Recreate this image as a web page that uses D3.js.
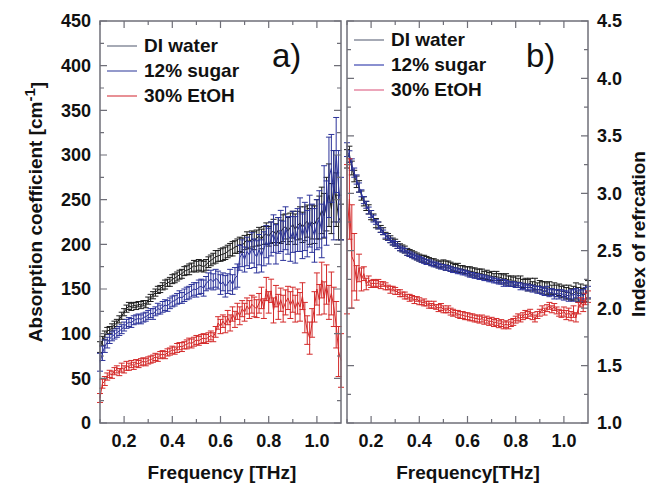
<!DOCTYPE html>
<html>
<head>
<meta charset="utf-8">
<script src="https://cdn.jsdelivr.net/npm/d3@7/dist/d3.min.js"></script>
<style>
  body { margin: 0; background: #fff; }
  svg { font-family: "Liberation Sans", Arial, sans-serif; }
  .tick-label { font-size: 18px; font-weight: bold; fill: #111; }
  .title { font-size: 19px; font-weight: bold; fill: #111; }
  .legend-text { font-size: 19px; font-weight: bold; fill: #111; }
  .panel-tag { font-size: 33px; fill: #111; }
</style>
</head>
<body>
<div id="chart"></div>
<script>
// sampled frequencies [THz]
var freq = [
  0.10, 0.11, 0.12, 0.13, 0.14, 0.15, 0.16, 0.17, 0.18, 0.19,
  0.20, 0.21, 0.22, 0.23, 0.24, 0.25, 0.26, 0.27, 0.28, 0.29,
  0.30, 0.31, 0.32, 0.33, 0.34, 0.35, 0.36, 0.37, 0.38, 0.39,
  0.40, 0.41, 0.42, 0.43, 0.44, 0.45, 0.46, 0.47, 0.48, 0.49,
  0.50, 0.51, 0.52, 0.53, 0.54, 0.55, 0.56, 0.57, 0.58, 0.59,
  0.60, 0.61, 0.62, 0.63, 0.64, 0.65, 0.66, 0.67, 0.68, 0.69,
  0.70, 0.71, 0.72, 0.73, 0.74, 0.75, 0.76, 0.77, 0.78, 0.79,
  0.80, 0.81, 0.82, 0.83, 0.84, 0.85, 0.86, 0.87, 0.88, 0.89,
  0.90, 0.91, 0.92, 0.93, 0.94, 0.95, 0.96, 0.97, 0.98, 0.99,
  1.00, 1.01, 1.02, 1.03, 1.04, 1.05, 1.06, 1.07, 1.08, 1.09, 1.10
];

var seriesNames = ["DI water", "12% sugar", "30% EtOH"];

// a) absorption coefficient [cm^-1]
var absWater = [
  85, 92, 98, 103, 104, 107, 110, 112, 116, 120,
  124, 128, 131, 130, 132, 131, 133, 132, 134, 133,
  137, 140, 143, 146, 149, 150, 153, 155, 157, 158,
  161, 162, 164, 166, 167, 170, 171, 172, 174, 176,
  175, 177, 176, 175, 177, 180, 182, 184, 186, 187,
  188, 189, 190, 192, 194, 195, 197, 198, 200, 199,
  202, 205, 203, 206, 204, 207, 209, 206, 210, 212,
  209, 213, 215, 211, 216, 214, 218, 220, 215, 219,
  222, 217, 221, 224, 219, 223, 226, 220, 225, 222,
  228, 230, 238, 232, 245, 255, 240, 265, 250, 230, 225
];
var absWaterErr = [
  6, 5, 5, 4, 4, 4, 4, 4, 4, 4,
  4, 4, 4, 4, 3, 4, 3, 4, 3, 4,
  4, 4, 4, 4, 4, 4, 4, 5, 4, 5,
  5, 5, 5, 5, 5, 5, 5, 6, 5, 6,
  6, 6, 6, 6, 6, 6, 6, 6, 7, 6,
  7, 7, 7, 7, 7, 8, 7, 8, 8, 8,
  8, 9, 8, 9, 10, 9, 10, 11, 10, 12,
  11, 12, 13, 12, 14, 13, 15, 14, 15, 16,
  15, 17, 16, 18, 17, 19, 18, 20, 19, 21,
  22, 24, 26, 25, 30, 35, 28, 40, 30, 25, 20
];
var absSugar = [
  68, 78, 86, 90, 94, 97, 99, 101, 103, 105,
  108, 111, 113, 112, 115, 116, 117, 116, 118, 119,
  121, 123, 122, 125, 128, 127, 130, 132, 131, 134,
  136, 137, 139, 141, 140, 143, 145, 146, 148, 150,
  149, 152, 153, 151, 156, 159, 161, 158, 162, 160,
  155, 158, 153, 156, 160, 155, 162, 165, 185, 190,
  183, 192, 188, 196, 190, 186, 194, 187, 195, 203,
  198, 206, 212, 200, 210, 215, 204, 218, 210, 206,
  214, 205, 216, 222, 209, 220, 212, 226, 218, 210,
  222, 228, 215, 248, 235, 275, 285, 255, 300, 265, 240
];
var absSugarErr = [
  10, 8, 7, 6, 5, 5, 5, 5, 5, 5,
  5, 5, 5, 5, 5, 5, 5, 5, 5, 5,
  5, 5, 6, 5, 6, 5, 6, 6, 6, 6,
  6, 6, 6, 7, 6, 7, 7, 7, 7, 7,
  8, 8, 8, 9, 8, 9, 10, 9, 10, 10,
  11, 10, 12, 11, 12, 11, 12, 13, 14, 15,
  14, 16, 15, 17, 16, 18, 17, 18, 19, 18,
  20, 19, 21, 22, 20, 23, 22, 24, 21, 25,
  23, 26, 24, 30, 25, 27, 26, 29, 27, 30,
  28, 32, 30, 40, 36, 45, 38, 50, 42, 40, 35
];
var absEtoh = [
  28, 44, 47, 52, 55, 54, 58, 60, 57, 62,
  60, 64, 63, 66, 64, 67, 66, 68, 69, 68,
  70, 71, 72, 74, 73, 76, 77, 76, 79, 80,
  82, 81, 84, 86, 85, 87, 88, 90, 89, 91,
  93, 92, 94, 95, 94, 96, 98, 96, 102, 112,
  108, 114, 110, 118, 112, 122, 116, 125, 120, 128,
  124, 131, 127, 133, 130, 128, 134, 140, 128, 150,
  135, 148, 126, 142, 130, 138, 128, 135, 140, 132,
  138, 128, 136, 130, 142, 118, 104, 95, 112, 130,
  150, 138, 160, 140, 155, 135, 145, 130, 110, 80, 70
];
var absEtohErr = [
  5, 5, 5, 4, 4, 4, 4, 4, 4, 5,
  4, 5, 4, 4, 4, 4, 4, 4, 4, 4,
  4, 4, 4, 4, 4, 4, 4, 4, 4, 4,
  4, 4, 5, 4, 5, 4, 5, 5, 5, 5,
  5, 5, 5, 5, 5, 5, 5, 5, 6, 7,
  8, 7, 9, 8, 9, 8, 9, 9, 10, 9,
  10, 9, 10, 10, 11, 10, 11, 12, 11, 13,
  12, 13, 14, 12, 14, 13, 15, 14, 13, 15,
  14, 15, 14, 16, 15, 17, 16, 18, 16, 17,
  18, 17, 20, 18, 22, 19, 24, 22, 26, 28, 30
];

// b) index of refraction
var idxWater = [
  3.38, 3.32, 3.25, 3.18, 3.12, 3.05, 3.00, 2.94, 2.90, 2.85,
  2.82, 2.78, 2.75, 2.72, 2.68, 2.66, 2.63, 2.61, 2.59, 2.57,
  2.56, 2.54, 2.52, 2.51, 2.50, 2.48, 2.47, 2.46, 2.45, 2.44,
  2.43, 2.42, 2.41, 2.40, 2.40, 2.39, 2.38, 2.38, 2.37, 2.36,
  2.36, 2.35, 2.35, 2.34, 2.33, 2.33, 2.32, 2.32, 2.31, 2.31,
  2.30, 2.29, 2.29, 2.28, 2.28, 2.27, 2.27, 2.26, 2.26, 2.25,
  2.25, 2.24, 2.24, 2.23, 2.23, 2.22, 2.22, 2.21, 2.21, 2.21,
  2.20, 2.20, 2.19, 2.19, 2.18, 2.18, 2.18, 2.17, 2.17, 2.16,
  2.16, 2.15, 2.14, 2.15, 2.13, 2.14, 2.12, 2.13, 2.12, 2.13,
  2.11, 2.12, 2.10, 2.12, 2.11, 2.13, 2.10, 2.12, 2.11, 2.13, 2.14
];
var idxWaterErr = [
  0.06, 0.05, 0.05, 0.04, 0.04, 0.04, 0.03, 0.03, 0.03, 0.03,
  0.03, 0.03, 0.02, 0.03, 0.02, 0.02, 0.02, 0.02, 0.02, 0.02,
  0.02, 0.02, 0.02, 0.02, 0.02, 0.02, 0.02, 0.02, 0.02, 0.02,
  0.02, 0.02, 0.02, 0.02, 0.02, 0.02, 0.02, 0.02, 0.02, 0.02,
  0.02, 0.02, 0.02, 0.02, 0.02, 0.02, 0.02, 0.02, 0.02, 0.02,
  0.02, 0.02, 0.02, 0.02, 0.02, 0.02, 0.02, 0.02, 0.02, 0.02,
  0.02, 0.02, 0.02, 0.02, 0.02, 0.03, 0.02, 0.02, 0.02, 0.02,
  0.02, 0.02, 0.03, 0.02, 0.02, 0.03, 0.02, 0.03, 0.02, 0.03,
  0.03, 0.03, 0.03, 0.04, 0.03, 0.03, 0.04, 0.03, 0.04, 0.03,
  0.04, 0.03, 0.04, 0.04, 0.05, 0.04, 0.05, 0.04, 0.05, 0.05, 0.05
];
var idxSugar = [
  3.30, 3.34, 3.22, 3.15, 3.10, 3.06, 2.98, 2.93, 2.89, 2.86,
  2.81, 2.79, 2.74, 2.72, 2.69, 2.67, 2.63, 2.62, 2.60, 2.58,
  2.57, 2.55, 2.53, 2.52, 2.51, 2.49, 2.48, 2.47, 2.46, 2.45,
  2.44, 2.43, 2.43, 2.42, 2.41, 2.40, 2.40, 2.39, 2.38, 2.38,
  2.39, 2.37, 2.38, 2.36, 2.36, 2.35, 2.35, 2.34, 2.34, 2.33,
  2.33, 2.32, 2.32, 2.31, 2.31, 2.30, 2.30, 2.29, 2.29, 2.28,
  2.28, 2.27, 2.28, 2.26, 2.27, 2.25, 2.26, 2.24, 2.25, 2.23,
  2.24, 2.22, 2.23, 2.21, 2.22, 2.20, 2.22, 2.19, 2.21, 2.18,
  2.20, 2.18, 2.19, 2.17, 2.18, 2.16, 2.17, 2.15, 2.16, 2.14,
  2.15, 2.13, 2.14, 2.12, 2.13, 2.15, 2.12, 2.14, 2.11, 2.13, 2.16
];
var idxSugarErr = [
  0.08, 0.07, 0.06, 0.05, 0.05, 0.05, 0.04, 0.04, 0.04, 0.04,
  0.04, 0.03, 0.04, 0.03, 0.03, 0.03, 0.03, 0.03, 0.03, 0.03,
  0.03, 0.03, 0.03, 0.03, 0.03, 0.03, 0.03, 0.03, 0.03, 0.03,
  0.03, 0.03, 0.03, 0.03, 0.03, 0.03, 0.03, 0.03, 0.03, 0.03,
  0.03, 0.04, 0.03, 0.04, 0.03, 0.03, 0.04, 0.03, 0.03, 0.03,
  0.03, 0.04, 0.03, 0.04, 0.03, 0.04, 0.04, 0.03, 0.04, 0.03,
  0.04, 0.03, 0.04, 0.04, 0.03, 0.04, 0.04, 0.04, 0.03, 0.04,
  0.04, 0.04, 0.05, 0.04, 0.04, 0.05, 0.04, 0.04, 0.05, 0.04,
  0.04, 0.05, 0.04, 0.05, 0.05, 0.04, 0.05, 0.05, 0.05, 0.05,
  0.05, 0.05, 0.06, 0.05, 0.06, 0.07, 0.06, 0.07, 0.06, 0.07, 0.08
];
var idxEtoh = [
  2.60, 2.95, 2.45, 2.40, 2.22, 2.35, 2.25, 2.30, 2.21, 2.24,
  2.21, 2.22, 2.21, 2.22, 2.20, 2.21, 2.19, 2.18, 2.16, 2.17,
  2.15, 2.14, 2.13, 2.12, 2.11, 2.10, 2.09, 2.09, 2.07, 2.08,
  2.06, 2.05, 2.05, 2.04, 2.03, 2.02, 2.03, 2.01, 2.00, 2.01,
  1.99, 1.98, 1.99, 1.97, 1.96, 1.96, 1.95, 1.94, 1.94, 1.93,
  1.93, 1.92, 1.92, 1.91, 1.91, 1.90, 1.91, 1.89, 1.90, 1.88,
  1.89, 1.87, 1.88, 1.86, 1.87, 1.85, 1.86, 1.85, 1.87, 1.88,
  1.90, 1.92, 1.91, 1.93, 1.95, 1.94, 1.96, 1.93, 1.91, 1.94,
  1.96, 1.99, 1.97, 2.00, 2.02, 1.99, 2.01, 1.98, 1.96, 1.95,
  1.97, 1.94, 1.96, 1.93, 1.97, 1.92, 2.00, 2.05, 2.02, 2.08, 2.10
];
var idxEtohErr = [
  0.65, 0.35, 0.45, 0.25, 0.15, 0.12, 0.10, 0.06, 0.05, 0.04,
  0.03, 0.03, 0.03, 0.03, 0.03, 0.02, 0.03, 0.02, 0.03, 0.02,
  0.03, 0.02, 0.03, 0.02, 0.03, 0.02, 0.03, 0.02, 0.03, 0.02,
  0.03, 0.02, 0.03, 0.02, 0.03, 0.02, 0.03, 0.02, 0.03, 0.03,
  0.03, 0.02, 0.03, 0.03, 0.03, 0.02, 0.03, 0.03, 0.03, 0.03,
  0.03, 0.03, 0.03, 0.03, 0.03, 0.03, 0.03, 0.03, 0.03, 0.03,
  0.03, 0.03, 0.03, 0.03, 0.03, 0.03, 0.03, 0.03, 0.03, 0.03,
  0.03, 0.03, 0.03, 0.03, 0.03, 0.03, 0.03, 0.03, 0.03, 0.03,
  0.03, 0.03, 0.03, 0.03, 0.03, 0.03, 0.03, 0.03, 0.03, 0.03,
  0.04, 0.04, 0.04, 0.04, 0.05, 0.04, 0.05, 0.04, 0.05, 0.05, 0.05
];

var xTicks = [0.2, 0.4, 0.6, 0.8, 1.0];
var absTicks = [0, 50, 100, 150, 200, 250, 300, 350, 400, 450];
var idxTicks = [1.0, 1.5, 2.0, 2.5, 3.0, 3.5, 4.0, 4.5];

var seriesColors = ["#1c1c1c", "#2c339a", "#d42a2a"],
    legendColors = [["#6a7184", "#4a55a8", "#d8454e"], ["#6a7184", "#3c46b0", "#e06b8c"]],
    frameColor = "#6f6f78";

var svg = d3.select("#chart").append("svg")
    .attr("width", 661)
    .attr("height", 487);

function drawPanel(p) {
  var x = d3.scaleLinear().domain([0.1, 1.1]).range([p.left, p.right]),
      y = d3.scaleLinear().domain(p.yDomain).range([423, 21]),
      g = svg.append("g"),
      capW = 3;

  // series: line + error bars
  p.series.forEach(function(s, k) {
    var pts = freq.map(function(f, i) { return {f: f, v: s.values[i], e: s.errors[i]}; }),
        sg = g.append("g")
          .attr("stroke", seriesColors[k])
          .attr("stroke-width", 1)
          .attr("fill", "none");
    sg.append("path")
      .datum(pts)
      .attr("d", d3.line()
        .x(function(d) { return x(d.f); })
        .y(function(d) { return y(d.v); }));
    sg.selectAll(".bar").data(pts)
      .enter().append("path")
      .attr("class", "bar")
      .attr("d", function(d) {
        var cx = x(d.f),
            y1 = Math.max(y(d.v + d.e), 21),
            y2 = Math.min(y(d.v - d.e), 423);
        return "M" + cx + "," + y1 + "V" + y2 +
               "M" + (cx - capW) + "," + y1 + "H" + (cx + capW) +
               "M" + (cx - capW) + "," + y2 + "H" + (cx + capW);
      });
  });

  // frame
  g.append("rect")
    .attr("x", p.left)
    .attr("y", 21)
    .attr("width", p.right - p.left)
    .attr("height", 402)
    .attr("fill", "none")
    .attr("stroke", frameColor)
    .attr("stroke-width", 1.5);

  // inward ticks on all four sides
  var xMinor = d3.range(1, 11).map(function(v) { return v / 10; }),
      yMinorStep = (p.yTicks[1] - p.yTicks[0]) / 2,
      yMinor = d3.range(p.yDomain[0], p.yDomain[1] + 1e-9, yMinorStep),
      tg = g.append("g").attr("stroke", frameColor).attr("stroke-width", 1.2);

  tg.selectAll(".xt").data(xMinor)
    .enter().append("path")
    .attr("d", function(d) {
      var len = xTicks.some(function(t) { return Math.abs(t - d) < 1e-6; }) ? 7 : 4,
          cx = x(d);
      return "M" + cx + ",423V" + (423 - len) + "M" + cx + ",21V" + (21 + len);
    });
  tg.selectAll(".yt").data(yMinor)
    .enter().append("path")
    .attr("d", function(d, i) {
      var len = (i % 2 === 0) ? 7 : 4,
          cy = y(d);
      return "M" + p.left + "," + cy + "H" + (p.left + len) +
             "M" + p.right + "," + cy + "H" + (p.right - len);
    });

  // tick labels
  g.selectAll(".xl").data(xTicks)
    .enter().append("text")
    .attr("class", "tick-label")
    .attr("x", function(d) { return x(d); })
    .attr("y", 447)
    .attr("text-anchor", "middle")
    .text(function(d) { return d3.format(".1f")(d); });
  g.selectAll(".yl").data(p.yTicks)
    .enter().append("text")
    .attr("class", "tick-label")
    .attr("x", p.labelSide === "left" ? p.left - 9 : p.right + 9)
    .attr("y", function(d) { return y(d); })
    .attr("dy", "0.36em")
    .attr("text-anchor", p.labelSide === "left" ? "end" : "start")
    .text(function(d) { return p.yFormat(d); });

  // x title
  g.append("text")
    .attr("class", "title")
    .attr("x", p.xTitleX)
    .attr("y", 479)
    .attr("text-anchor", "middle")
    .text(p.xTitle);

  // panel tag
  g.append("text")
    .attr("class", "panel-tag")
    .attr("x", p.tagX)
    .attr("y", 67)
    .text(p.tag);

  // legend
  var lg = g.selectAll(".legend").data(seriesNames)
    .enter().append("g")
    .attr("transform", function(d, i) { return "translate(0," + (p.legendY + i * 25) + ")"; });
  lg.append("line")
    .attr("x1", p.left + 7)
    .attr("x2", p.left + 37)
    .attr("y1", -6)
    .attr("y2", -6)
    .attr("stroke", function(d, i) { return legendColors[p.legendSet][i]; })
    .attr("stroke-width", 1.2);
  lg.append("text")
    .attr("class", "legend-text")
    .attr("x", p.left + 44)
    .attr("y", 0)
    .text(function(d) { return d; });
}

drawPanel({
  left: 100, right: 341,
  yDomain: [0, 450], yTicks: absTicks,
  yFormat: function(d) { return d; },
  labelSide: "left",
  xTitle: "Frequency [THz]", xTitleX: 222,
  tag: "a)", tagX: 272,
  legendY: 52, legendSet: 0,
  series: [
    {values: absWater, errors: absWaterErr},
    {values: absSugar, errors: absSugarErr},
    {values: absEtoh, errors: absEtohErr}
  ]
});

drawPanel({
  left: 347, right: 588,
  yDomain: [1.0, 4.5], yTicks: idxTicks,
  yFormat: d3.format(".1f"),
  labelSide: "right",
  xTitle: "Frequency[THz]", xTitleX: 468,
  tag: "b)", tagX: 526,
  legendY: 46, legendSet: 1,
  series: [
    {values: idxSugar, errors: idxSugarErr},
    {values: idxWater, errors: idxWaterErr},
    {values: idxEtoh, errors: idxEtohErr}
  ]
});

// y titles
var yTitle = svg.append("text")
    .attr("class", "title")
    .attr("transform", "translate(42,212) rotate(-90)")
    .attr("text-anchor", "middle");
yTitle.append("tspan").text("Absorption coefficient [cm");
yTitle.append("tspan").attr("dy", "-0.45em").attr("font-size", "15px").text("-1");
yTitle.append("tspan").attr("dy", "0.45em").text("]");

svg.append("text")
  .attr("class", "title")
  .attr("transform", "translate(645,234) rotate(-90)")
  .attr("text-anchor", "middle")
  .text("Index of refrcation");
</script>
</body>
</html>
